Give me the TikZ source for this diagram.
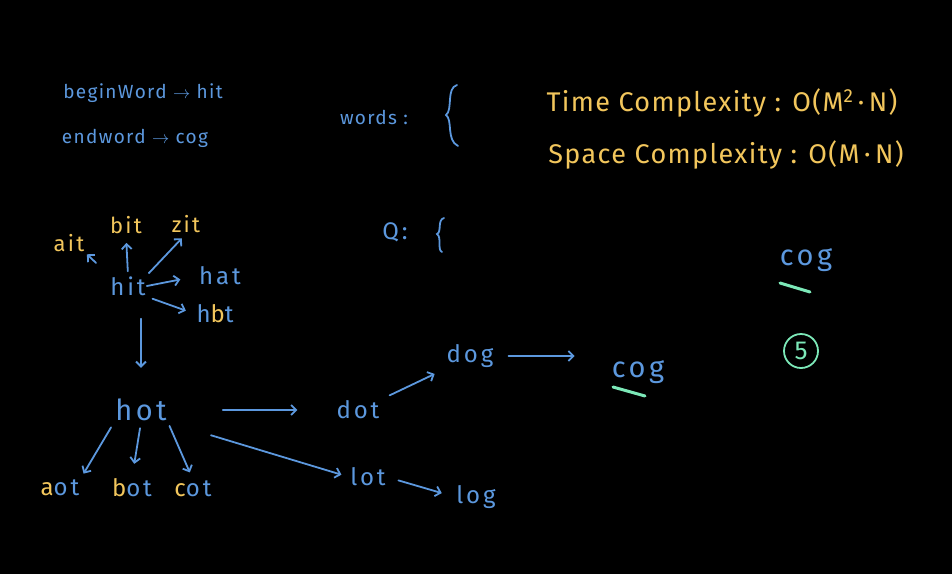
\documentclass[tikz,border=0pt]{standalone}
\usepackage{fontspec}
\setmainfont{Fira Sans}
\usepackage{xcolor}
\usetikzlibrary{arrows.meta,positioning,calc}
\definecolor{chalkblue}{RGB}{92,152,222}
\definecolor{chalkgold}{RGB}{242,198,92}
\definecolor{chalkgreen}{RGB}{124,232,184}
\newcommand{\gd}[1]{\textcolor{chalkgold}{#1}}
\newcommand{\chalkfont}[2]{\fontsize{#1}{#1}\selectfont\addfontfeature{LetterSpace=#2}}

\begin{document}
\begin{tikzpicture}[
    x=1pt, y=-1pt,
    word/.style={text=chalkblue, inner sep=1pt, font=\chalkfont{24}{12}},
    small/.style={word, font=\chalkfont{22}{10}},
    note/.style={word, font=\chalkfont{19}{7}},
    big/.style={word, font=\chalkfont{29}{12}},
    gold/.style={small, text=chalkgold},
    cplx/.style={word, text=chalkgold, font=\chalkfont{27}{5}},
    chalk/.style={chalkblue, line width=1.8pt, line cap=round},
    arrow/.style={chalk, -{Straight Barb[length=5pt,width=10pt]}},
    hilite/.style={chalkgreen, line width=3pt, line cap=round},
]

% ===== BOARD =====
\fill[black] (0,0) rectangle (952,574);
\useasboundingbox (0,0) rectangle (952,574);

% ===== GIVEN =====
\node[note] (beginw) at (143,93)  {beginWord $\rightarrow$ hit};
\node[note] (endw)   at (135,138) {endword $\rightarrow$ cog};

\node[note] (words) at (374,117) {words :};
\draw[chalk] (457,85) .. controls (446,88) and (453,110) .. (446,115)
    .. controls (453,120) and (446,140) .. (458,146);

\node[word] (queue) at (395,232) {Q:};
\draw[chalk] (444,218) .. controls (437,220) and (442,232) .. (437,234)
    .. controls (442,237) and (437,250) .. (442,252);

\node[cplx] (tcx) at (722,103) {Time Complexity : O(M\textsuperscript{2}\,·\,N)};
\node[cplx] (scx) at (726,155) {Space Complexity : O(M\,·\,N)};

% ===== FIRST LEVEL =====
\node[gold] (ait) at (69,243)  {ait};
\node[gold] (bit) at (126,225) {bit};
\node[gold] (zit) at (186,224) {zit};
\node[word] (hit) at (128,286) {hit};
\node[word] (hat) at (220,276) {hat};
\node[word] (hbt) at (215,314) {h\gd{b}t};

\draw[arrow, shorten <=18pt, shorten >=2pt] (hit.north west) -- (ait.south east);
\draw[arrow, shorten <=4pt, shorten >=8pt] (hit.north) -- (bit.south);
\draw[arrow, shorten <=3pt, shorten >=6pt] (hit.north east) -- (zit.south);
\draw[arrow, shorten >=18pt] (hit.east) -- (hat.west);
\draw[arrow, shorten <=6pt, shorten >=10pt] (hit.south east) -- (hbt.west);

% ===== SECOND LEVEL =====
\node[big] (hot) at (141,410) {hot};
\node[word] (aot) at (60,488)  {\gd{a}ot};
\node[word] (bot) at (132,488) {\gd{b}ot};
\node[word] (cot) at (193,489) {\gd{c}ot};

\draw[arrow, shorten <=22pt, shorten >=30pt] (hit.south -| hot.north) -- (hot.north);
\draw[arrow, shorten <=6pt, shorten >=6pt] (hot.south west) -- (aot.north east);
\draw[arrow, shorten <=6pt, shorten >=14pt] (hot.south) -- (bot.north);
\draw[arrow, shorten <=4pt, shorten >=8pt] (hot.south east) -- (cot.north);

% ===== THIRD LEVEL =====
\node[word] (dot) at (358,410) {dot};
\node[word] (lot) at (368,477) {lot};
\node[word] (log) at (476,497) {log};
\node[word] (dog) at (470,356) {dog};
\node[big]  (cog) at (638,372) {cog};

\draw[arrow, shorten <=55pt, shorten >=38pt] (hot.east) -- (dot.west);
\draw[arrow, shorten <=45pt, shorten >=8pt] (hot.south east) -- (lot.west);
\draw[arrow, shorten <=12pt, shorten >=14pt] (lot.east) -- (log.west);
\draw[arrow, shorten <=10pt, shorten >=12pt] (dot.north east) -- (dog.south west);
\draw[arrow, shorten <=14pt, shorten >=36pt] (dog.east) -- (dog.east -| cog.west);

\draw[hilite] (613,387) -- (645,396);

% ===== RESULT =====
\node[big] (cogr) at (806,260) {cog};
\draw[hilite] (780,283) -- (810,292);
\node[draw=chalkgreen, text=chalkgreen, circle, line width=1.8pt,
    minimum size=34pt, inner sep=0pt, font=\chalkfont{26}{0}] (steps) at (801,351) {5};

\end{tikzpicture}
\end{document}
